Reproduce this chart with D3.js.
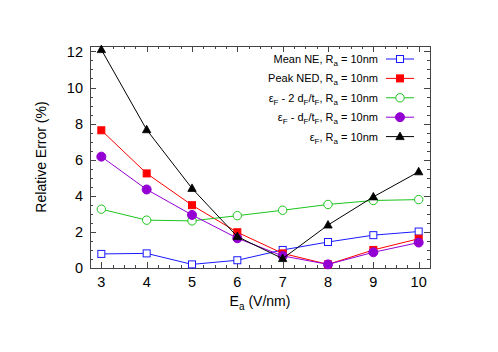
<!DOCTYPE html>
<html>
<head>
<meta charset="utf-8">
<script src="https://cdn.jsdelivr.net/npm/d3@7"></script>
<style>
  body { margin: 0; background: #fff; }
  svg text { font-family: "Liberation Sans", Arial, sans-serif; fill: #000; }
</style>
</head>
<body>
<div id="chart"></div>
<script>
// field values (V/nm)
const fields = [3, 4, 5, 6, 7, 8, 9, 10];

// relative error (%) per series
const meanNE   = [0.78, 0.81, 0.2, 0.43, 1.0, 1.44, 1.82, 2.02];
const peakNED  = [7.63, 5.24, 3.48, 1.98, 0.81, 0.2, 1.0, 1.62];
const eps2d    = [3.26, 2.65, 2.61, 2.9, 3.2, 3.52, 3.74, 3.79];
const eps1d    = [6.17, 4.35, 2.94, 1.65, 0.67, 0.2, 0.87, 1.41];
const epsF     = [12.1, 7.66, 4.41, 1.74, 0.52, 2.38, 3.94, 5.33];

const xTicks = [3, 4, 5, 6, 7, 8, 9, 10];
const yTicks = [0, 2, 4, 6, 8, 10, 12];

const series = [
  {values: meanNE, color: "#1a1aff", marker: "sq", filled: false},
  {values: peakNED, color: "#ff0000", marker: "sq", filled: true},
  {values: eps2d, color: "#1cc41c", marker: "ci", filled: false},
  {values: eps1d, color: "#9400d3", marker: "ci", filled: true},
  {values: epsF, color: "#000000", marker: "tr", filled: true}
];

const W = 498, H = 352;
const margin = {left: 90, right: 68, top: 46, bottom: 84};
const iw = W - margin.left - margin.right;
const ih = H - margin.top - margin.bottom;

const svg = d3.select("#chart").append("svg")
  .attr("width", W).attr("height", H);

const x = d3.scaleLinear().domain([2.75, 10.25]).range([margin.left, margin.left + iw]);
const y = d3.scaleLinear().domain([0, 12.3]).range([margin.top + ih, margin.top]);

const frame = "#444";
const g = svg.append("g");

// ticks on all four sides, inward
const xMinor = d3.range(2.75, 10.26, 0.25);
const yMinor = d3.range(0, 12.31, 0.5);
function isMajor(v, arr) { return arr.some(t => Math.abs(t - v) < 1e-6); }

xMinor.forEach(v => {
  const len = isMajor(v, xTicks) ? 6 : 3;
  const px = Math.round(x(v)) + 0.5;
  g.append("line").attr("x1", px).attr("x2", px)
    .attr("y1", y(0)).attr("y2", y(0) - len).attr("stroke", frame);
  g.append("line").attr("x1", px).attr("x2", px)
    .attr("y1", margin.top).attr("y2", margin.top + len).attr("stroke", frame);
});
yMinor.forEach(v => {
  const len = isMajor(v, yTicks) ? 6 : 3;
  const py = Math.round(y(v)) + 0.5;
  g.append("line").attr("y1", py).attr("y2", py)
    .attr("x1", margin.left).attr("x2", margin.left + len).attr("stroke", frame);
  g.append("line").attr("y1", py).attr("y2", py)
    .attr("x1", margin.left + iw).attr("x2", margin.left + iw - len).attr("stroke", frame);
});

g.append("rect")
  .attr("x", margin.left + 0.5).attr("y", margin.top + 0.5)
  .attr("width", iw).attr("height", ih)
  .attr("fill", "none").attr("stroke", frame).attr("stroke-width", 1);

// tick labels
g.selectAll(".xl").data(xTicks).enter().append("text")
  .attr("x", d => x(d)).attr("y", y(0) + 19)
  .attr("text-anchor", "middle").attr("font-size", 14.5).text(d => d);
g.selectAll(".yl").data(yTicks).enter().append("text")
  .attr("x", margin.left - 7).attr("y", d => y(d) + 5.2)
  .attr("text-anchor", "end").attr("font-size", 14.5).text(d => d);

// axis titles
g.append("text")
  .attr("transform", `translate(46,${margin.top + ih / 2}) rotate(-90)`)
  .attr("text-anchor", "middle").attr("font-size", 14)
  .text("Relative Error (%)");
const xt = g.append("text")
  .attr("x", margin.left + iw / 2).attr("y", 306)
  .attr("text-anchor", "middle").attr("font-size", 14);
xt.append("tspan").text("E");
xt.append("tspan").attr("font-size", 10).attr("dy", 4).text("a");
xt.append("tspan").attr("dy", -4).text(" (V/nm)");

function drawMarker(sel, s, cx, cy) {
  const fill = s.filled ? s.color : "#fff";
  if (s.marker === "sq") {
    sel.append("rect").attr("x", cx - 3.5).attr("y", cy - 3.5)
      .attr("width", 7).attr("height", 7)
      .attr("fill", fill).attr("stroke", s.color).attr("stroke-width", 1);
  } else if (s.marker === "ci") {
    sel.append("circle").attr("cx", cx).attr("cy", cy).attr("r", s.filled ? 4.5 : 4.2)
      .attr("fill", fill).attr("stroke", s.color).attr("stroke-width", 1);
  } else {
    sel.append("path")
      .attr("d", `M${cx},${cy - 4.5}L${cx + 4.2},${cy + 3}L${cx - 4.2},${cy + 3}Z`)
      .attr("fill", fill).attr("stroke", s.color).attr("stroke-width", 0.8);
  }
}

const line = d3.line().x(d => x(d[0])).y(d => y(d[1]));

series.forEach(s => {
  const pts = fields.map((f, i) => [f, s.values[i]]);
  const sg = svg.append("g");
  sg.append("path").datum(pts).attr("d", line)
    .attr("fill", "none").attr("stroke", s.color).attr("stroke-width", 1);
  pts.forEach(p => drawMarker(sg, s, x(p[0]), y(p[1])));
});

// legend
const legX = 378, legY0 = 59, legDy = 19.4;
series.forEach((s, i) => {
  const ly = legY0 + i * legDy;
  const t = svg.append("text").attr("x", legX).attr("y", ly + 4)
    .attr("text-anchor", "end").attr("font-size", 11);
  const sub = (txt) => t.append("tspan").attr("font-size", 8).attr("dy", 3).text(txt);
  const up = (txt) => t.append("tspan").attr("dy", -3).text(txt);
  if (i === 0) t.append("tspan").text("Mean NE, R");
  if (i === 1) t.append("tspan").text("Peak NED, R");
  if (i === 2) {
    t.append("tspan").text("\u03b5"); sub("F");
    up(" - 2 d"); sub("F"); up("/t"); sub("F"); up(", R");
  }
  if (i === 3) {
    t.append("tspan").text("\u03b5"); sub("F");
    up(" - d"); sub("F"); up("/t"); sub("F"); up(", R");
  }
  if (i === 4) {
    t.append("tspan").text("\u03b5"); sub("F"); up(", R");
  }
  sub("a"); up(" = 10nm");
  svg.append("line").attr("x1", 386).attr("x2", 414)
    .attr("y1", ly).attr("y2", ly).attr("stroke", s.color).attr("stroke-width", 1);
  drawMarker(svg.append("g"), s, 400, ly);
});
</script>
</body>
</html>
